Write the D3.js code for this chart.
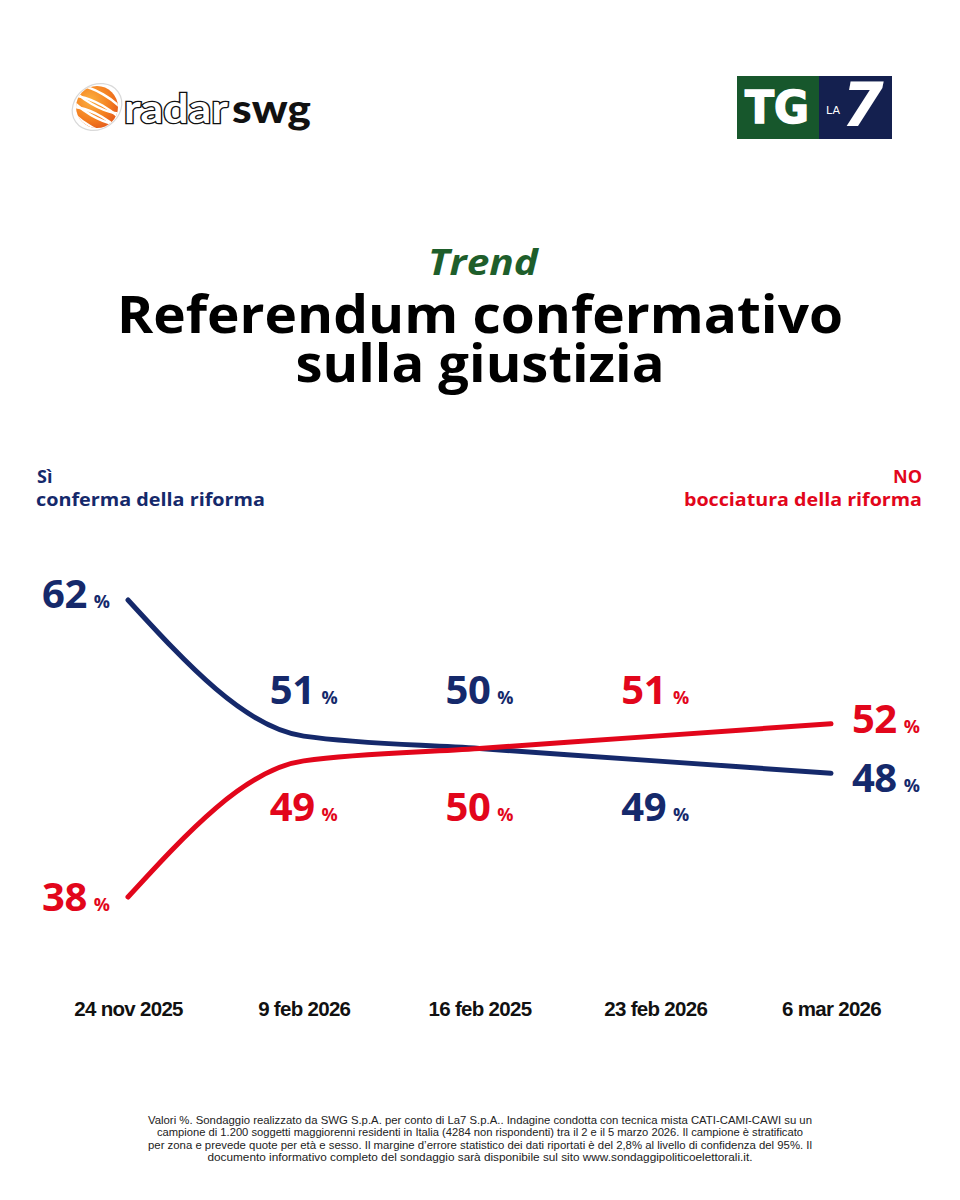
<!DOCTYPE html>
<html>
<head>
<meta charset="utf-8">
<script src="https://cdn.jsdelivr.net/npm/d3@7"></script>
<style>
  html, body { margin: 0; padding: 0; background: #ffffff; }
  svg { display: block; }
</style>
</head>
<body>
<div id="chart"></div>
<script>
// ---- data ----
const dates = ["24 nov 2025", "9 feb 2026", "16 feb 2025", "23 feb 2026", "6 mar 2026"];
const siValues = [62, 51, 50, 49, 48];
const noValues = [38, 49, 50, 51, 52];
const seriesNames = ["Sì", "NO"];
const seriesSubtitles = ["conferma della riforma", "bocciatura della riforma"];
const titleKicker = "Trend";
const titleLines = ["Referendum confermativo", "sulla giustizia"];
const footnoteLines = [
  "Valori %. Sondaggio realizzato da SWG S.p.A. per conto di La7 S.p.A.. Indagine condotta con tecnica mista CATI-CAMI-CAWI su un",
  "campione di 1.200 soggetti maggiorenni residenti in Italia (4284 non rispondenti) tra il 2 e il 5 marzo 2026. Il campione è stratificato",
  "per zona e prevede quote per età e sesso. Il margine d’errore statistico dei dati riportati è del 2,8% al livello di confidenza del 95%. Il",
  "documento informativo completo del sondaggio sarà disponibile sul sito www.sondaggipoliticoelettorali.it."
];

// ---- styles ----
const W = 960, H = 1200;
const NAVY = "#15296b", RED = "#e2061b", GREEN = "#1e5e2b";
const FONT = "'Open Sans', 'Noto Sans', sans-serif";

const svg = d3.select("#chart").append("svg")
  .attr("width", W).attr("height", H)
  .attr("viewBox", `0 0 ${W} ${H}`);

svg.append("rect").attr("width", W).attr("height", H).attr("fill", "#fff");

// ---- logos ----
const defs = svg.append("defs");
const rg = defs.append("radialGradient").attr("id", "globeGrad")
  .attr("cx", "35%").attr("cy", "35%").attr("r", "75%");
rg.append("stop").attr("offset", "0%").attr("stop-color", "#fbb040");
rg.append("stop").attr("offset", "60%").attr("stop-color", "#f47f20");
rg.append("stop").attr("offset", "100%").attr("stop-color", "#e2571b");
defs.append("clipPath").attr("id", "globeClip")
  .append("circle").attr("cx", 97).attr("cy", 107).attr("r", 21);

const logo = svg.append("g");
logo.append("ellipse").attr("cx", 97).attr("cy", 107).attr("rx", 26).attr("ry", 22)
  .attr("transform", "rotate(-35 97 107)")
  .attr("fill", "none").attr("stroke", "#d9d9d9").attr("stroke-width", 1.2);
logo.append("circle").attr("cx", 97).attr("cy", 107).attr("r", 21).attr("fill", "url(#globeGrad)");
const stripes = logo.append("g").attr("clip-path", "url(#globeClip)");
[-12, -2, 8, 18].forEach(off => {
  stripes.append("ellipse")
    .attr("cx", 97 + off * 0.5).attr("cy", 107 + off)
    .attr("rx", 34).attr("ry", 12)
    .attr("transform", `rotate(30 ${97} ${107})`)
    .attr("fill", "none").attr("stroke", "#fff").attr("stroke-width", 2.4);
});
logo.append("text").attr("x", 124).attr("y", 123)
  .attr("font-family", "'Lato', 'Open Sans', sans-serif").attr("font-weight", 700)
  .attr("font-size", 40).attr("fill", "#fff").attr("stroke", "#111").attr("stroke-width", 2.6)
  .attr("paint-order", "stroke").attr("textLength", 104).attr("lengthAdjust", "spacingAndGlyphs")
  .text("radar");
logo.append("text").attr("x", 232).attr("y", 123)
  .attr("font-family", "'Lato', 'Open Sans', sans-serif").attr("font-weight", 900)
  .attr("font-size", 40).attr("fill", "#111")
  .attr("textLength", 79).attr("lengthAdjust", "spacingAndGlyphs")
  .text("swg");

const tg = svg.append("g");
tg.append("rect").attr("x", 737).attr("y", 76).attr("width", 82).attr("height", 63).attr("fill", "#17572c");
tg.append("rect").attr("x", 819).attr("y", 76).attr("width", 73).attr("height", 63).attr("fill", "#14204f");
tg.append("text").attr("x", 745).attr("y", 123)
  .attr("font-family", "'DejaVu Sans', sans-serif").attr("font-weight", 700)
  .attr("font-size", 45).attr("fill", "#fff").attr("stroke", "#fff").attr("stroke-width", 1.5)
  .attr("textLength", 64).attr("lengthAdjust", "spacingAndGlyphs").text("TG");
tg.append("text").attr("x", 826).attr("y", 114)
  .attr("font-family", "'DejaVu Sans', sans-serif").attr("font-size", 11).attr("fill", "#fff").text("LA");
tg.append("text").attr("x", 842).attr("y", 126)
  .attr("font-family", "'DejaVu Sans', sans-serif").attr("font-weight", 700).attr("font-style", "italic")
  .attr("font-size", 60).attr("fill", "#fff").text("7");

// ---- title ----
svg.append("text").attr("x", 483).attr("y", 275).attr("text-anchor", "middle")
  .attr("font-family", FONT).attr("font-weight", 700).attr("font-style", "italic")
  .attr("font-size", 35).attr("fill", GREEN)
  .attr("textLength", 110).attr("lengthAdjust", "spacingAndGlyphs").text(titleKicker);
const titleLens = [726, 369];
titleLines.forEach((t, i) => {
  svg.append("text").attr("x", 480).attr("y", 333 + i * 49).attr("text-anchor", "middle")
    .attr("font-family", FONT).attr("font-weight", 700).attr("font-size", 52).attr("fill", "#000")
    .attr("textLength", titleLens[i]).attr("lengthAdjust", "spacingAndGlyphs").text(t);
});

// ---- legend headers ----
svg.append("text").attr("x", 37).attr("y", 483).attr("font-family", FONT).attr("font-weight", 700)
  .attr("font-size", 18).attr("fill", NAVY).text(seriesNames[0]);
svg.append("text").attr("x", 36).attr("y", 506).attr("font-family", FONT).attr("font-weight", 700)
  .attr("font-size", 18).attr("fill", NAVY).attr("textLength", 229).attr("lengthAdjust", "spacingAndGlyphs")
  .text(seriesSubtitles[0]);
svg.append("text").attr("x", 922).attr("y", 483).attr("text-anchor", "end").attr("font-family", FONT)
  .attr("font-weight", 700).attr("font-size", 18).attr("fill", RED).text(seriesNames[1]);
svg.append("text").attr("x", 922).attr("y", 506).attr("text-anchor", "end").attr("font-family", FONT)
  .attr("font-weight", 700).attr("font-size", 18).attr("fill", RED)
  .attr("textLength", 238).attr("lengthAdjust", "spacingAndGlyphs").text(seriesSubtitles[1]);

// ---- scales ----
const x = d3.scalePoint().domain(dates).range([128, 831]);
const y = d3.scaleLinear().domain([38, 62]).range([897, 600]);

const series = [
  { name: seriesNames[0], values: siValues, color: NAVY },
  { name: seriesNames[1], values: noValues, color: RED }
];

const line = d3.line()
  .x((d, i) => x(dates[i]))
  .y(d => y(d))
  .curve(d3.curveMonotoneX);

series.forEach(s => {
  svg.append("path").datum(s.values)
    .attr("d", line)
    .attr("fill", "none")
    .attr("stroke", s.color)
    .attr("stroke-width", 5)
    .attr("stroke-linecap", "round")
    .attr("stroke-linejoin", "round");
});

// ---- x axis labels ----
const xAxis = d3.axisBottom(x).tickSize(0).tickPadding(0);
const axisG = svg.append("g").attr("transform", "translate(0,1001)").call(xAxis);
axisG.select(".domain").remove();
axisG.selectAll("text")
  .attr("dy", "0.71em")
  .attr("font-family", "'Liberation Sans', Arial, sans-serif")
  .attr("font-weight", 700).attr("font-size", 20.5).attr("fill", "#111")
  .attr("letter-spacing", -0.7);

// ---- value labels ----
const midY = y(50);
const rowAbove = midY - 45, rowBelow = midY + 72;

function addLabel(xp, yp, val, color, anchor) {
  const t = svg.append("text").attr("x", xp).attr("y", yp).attr("text-anchor", anchor)
    .attr("font-family", FONT).attr("font-weight", 700).attr("fill", color);
  t.append("tspan").attr("font-size", 40).attr("letter-spacing", -0.5).text(val);
  t.append("tspan").attr("dx", 7).attr("font-size", 18).text("%");
}

dates.forEach((d, i) => {
  const a = siValues[i], b = noValues[i];
  const siTop = a >= b;
  const last = dates.length - 1;
  if (i === 0) {
    addLabel(x(d) - 18, y(siTop ? a : b) + 8, siTop ? a : b, siTop ? NAVY : RED, "end");
    addLabel(x(d) - 18, y(siTop ? b : a) + 14, siTop ? b : a, siTop ? RED : NAVY, "end");
  } else if (i === last) {
    addLabel(x(d) + 21, y(siTop ? a : b) + 9, siTop ? a : b, siTop ? NAVY : RED, "start");
    addLabel(x(d) + 21, y(siTop ? b : a) + 19, siTop ? b : a, siTop ? RED : NAVY, "start");
  } else {
    addLabel(x(d), rowAbove, siTop ? a : b, siTop ? NAVY : RED, "middle");
    addLabel(x(d), rowBelow, siTop ? b : a, siTop ? RED : NAVY, "middle");
  }
});

// ---- footnote ----
const fnLens = [664, 646, 664, 545];
footnoteLines.forEach((t, i) => {
  svg.append("text").attr("x", 480).attr("y", 1124 + i * 12.3).attr("text-anchor", "middle")
    .attr("font-family", "'Liberation Sans Narrow', 'Liberation Sans', Arial, sans-serif")
    .attr("font-size", 11.5).attr("fill", "#222")
    .attr("textLength", fnLens[i]).attr("lengthAdjust", "spacingAndGlyphs")
    .text(t);
});
</script>
</body>
</html>
